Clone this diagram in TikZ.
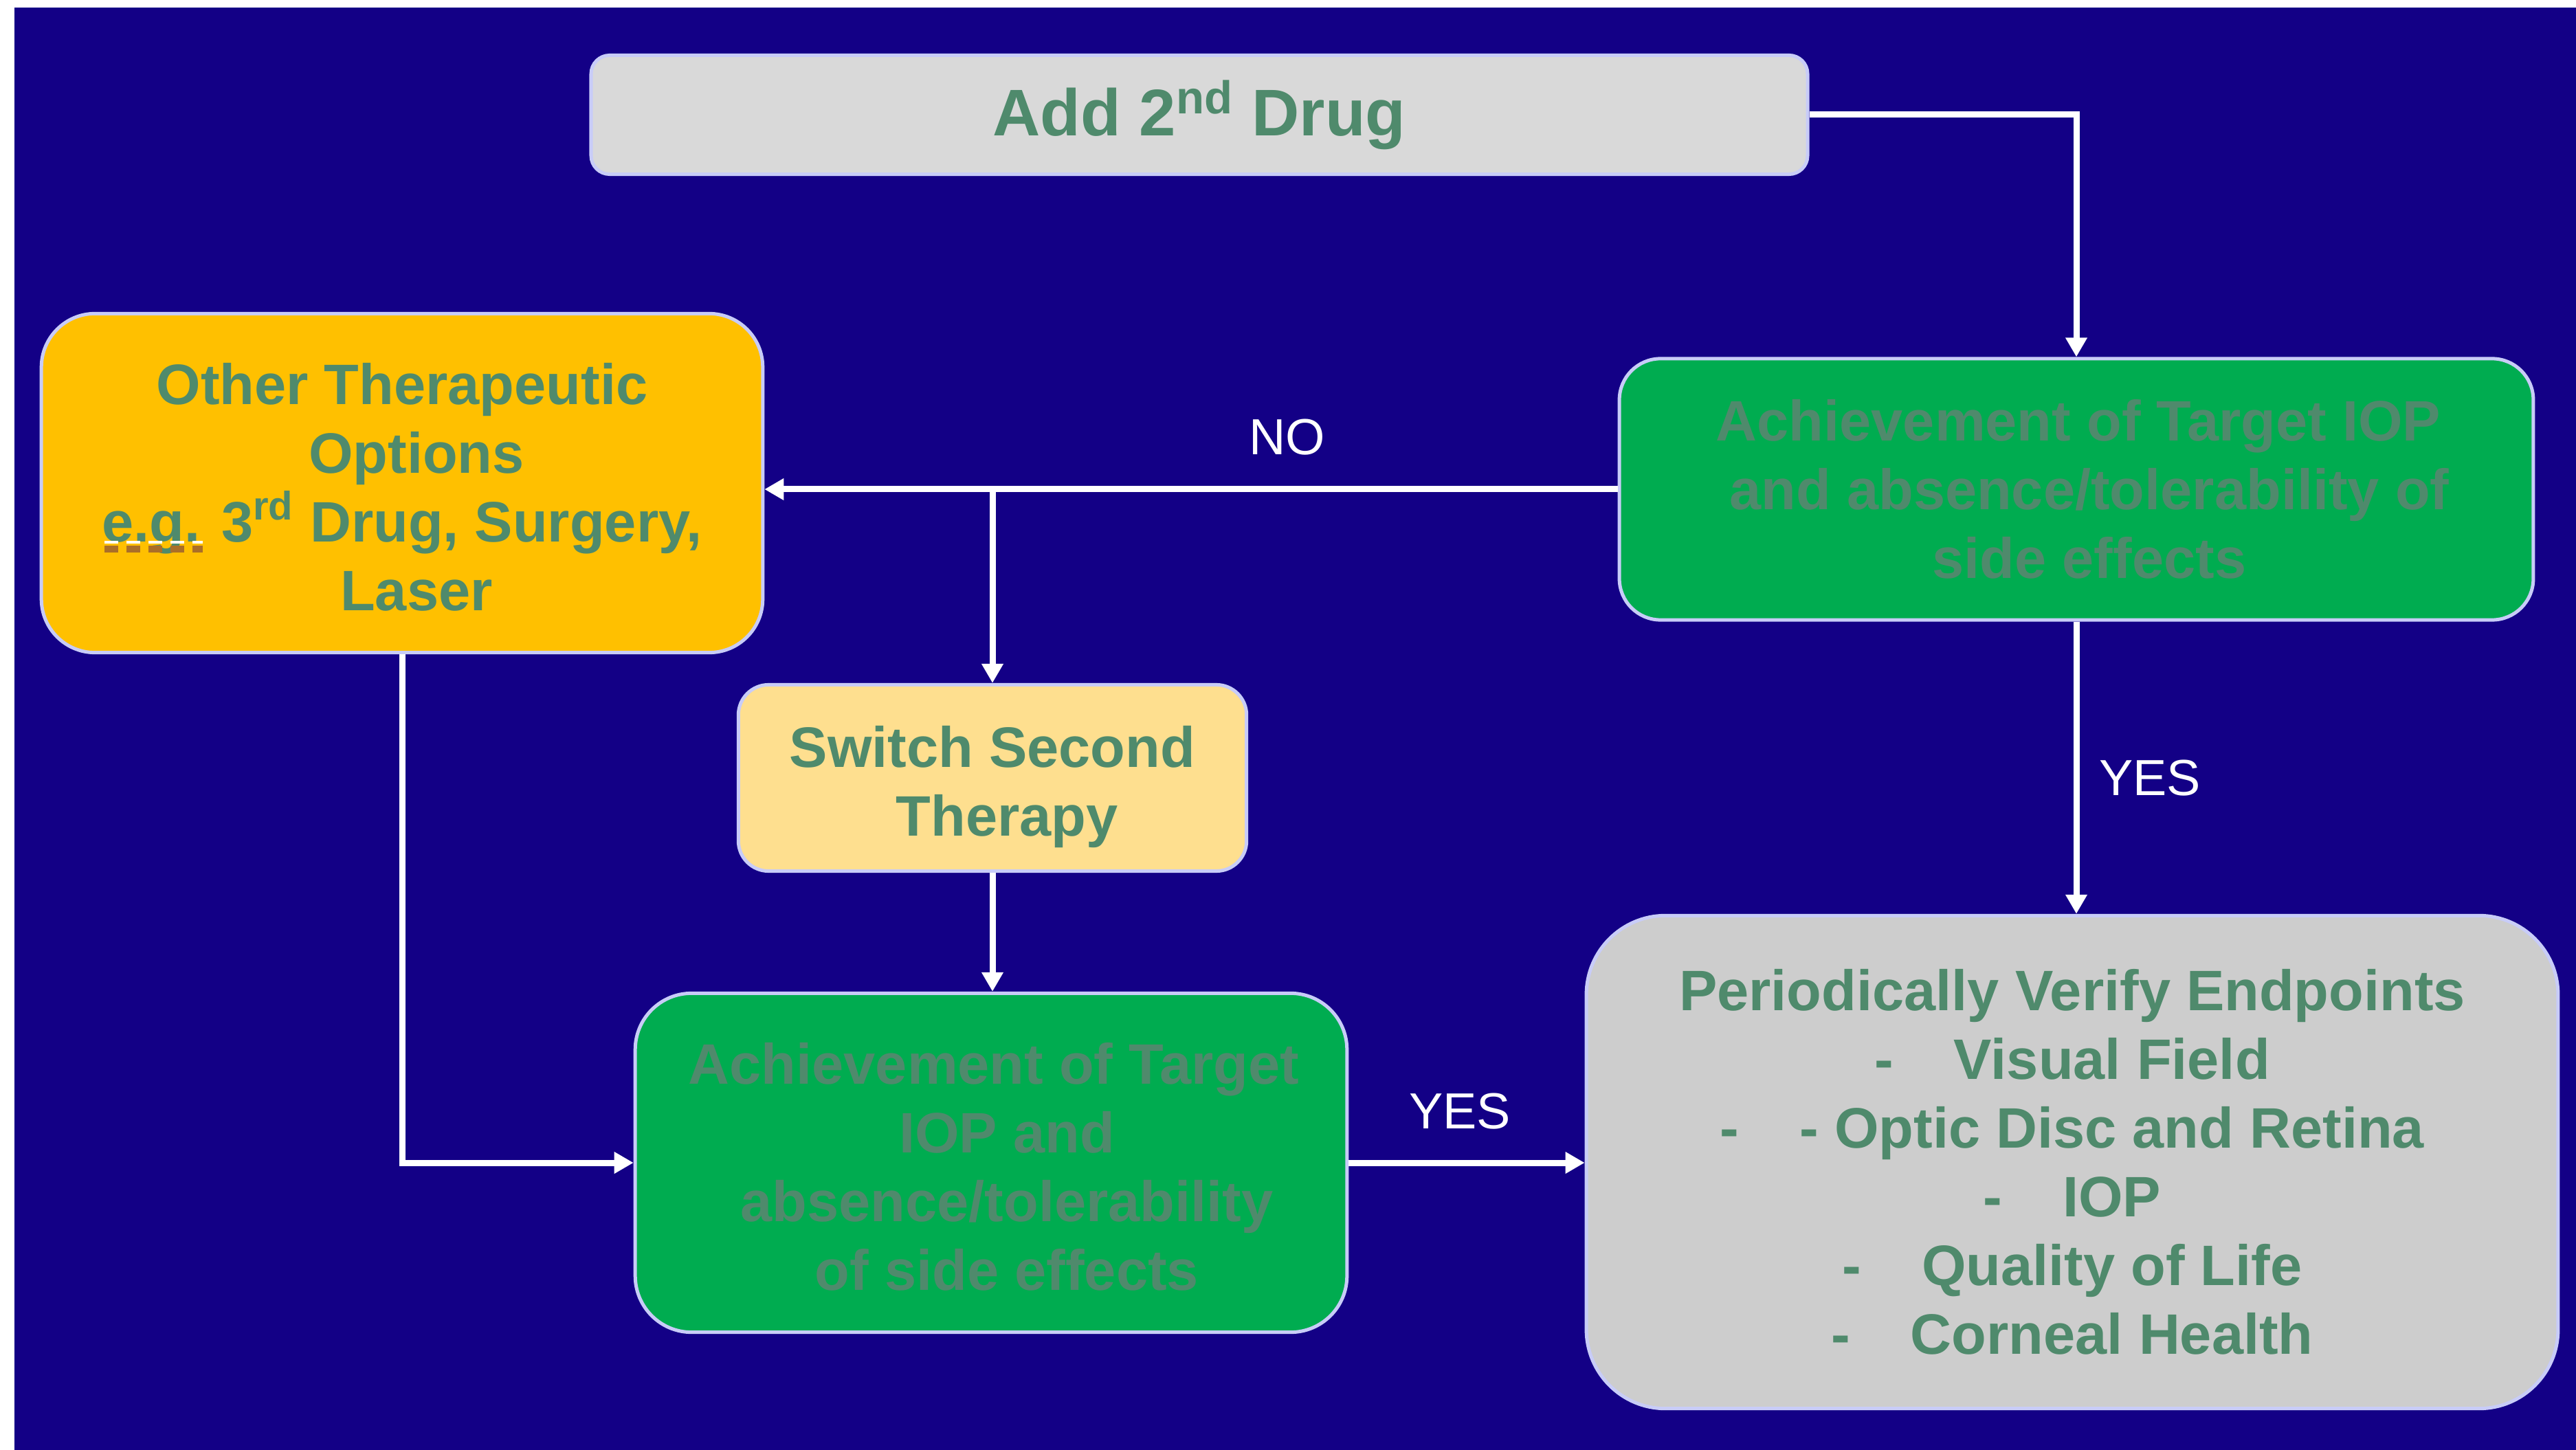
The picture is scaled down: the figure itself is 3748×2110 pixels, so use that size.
\documentclass[tikz,border=0pt]{standalone}
\usepackage{fontspec}
\setmainfont{Liberation Sans}
\usetikzlibrary{arrows.meta}
\definecolor{bgblue}{RGB}{19,0,134}
\definecolor{bordercol}{RGB}{200,204,248}
\definecolor{txtgreen}{RGB}{79,138,108}
\definecolor{boxgreen}{RGB}{0,172,80}
\definecolor{boxorange}{RGB}{255,192,0}
\definecolor{boxyellow}{RGB}{254,223,143}
\definecolor{boxlight}{RGB}{217,217,217}
\definecolor{boxgray}{RGB}{205,205,205}
\definecolor{squig}{RGB}{170,110,40}
\newcommand\boxfont{\fontsize{23.6}{28.45}\selectfont\bfseries}
\newcommand\addfont{\fontsize{27.3}{32}\selectfont\bfseries}
\newcommand\lblfont{\fontsize{21}{25}\selectfont}
\newcommand\sh[1]{\hspace*{#1}}
\tikzset{
  box/.style={rectangle, draw=bordercol, line width=0.05cm, text=txtgreen,
    font=\boxfont, align=center, inner sep=0pt},
  arr/.style={draw=white, line width=0.09cm, -{Triangle[length=0.28cm,width=0.30cm]}},
  lbl/.style={text=white, font=\lblfont, inner sep=0pt}
}
\begin{document}
\begin{tikzpicture}[x=0.01cm,y=-0.01cm]
\useasboundingbox (0,0) rectangle (3748,2110);
\fill[white] (0,0) rectangle (3748,2110);
\fill[bgblue] (21,11) rectangle (3748,2110);

\node[box, fill=boxlight, rounded corners=0.27cm, font=\addfont,
  minimum width=17.69cm, minimum height=1.73cm] (add) at (1745,167)
  {\rule{0pt}{0.78cm}Add 2\textsuperscript{nd} Drug};

\node[box, fill=boxgreen, rounded corners=0.6cm,
  minimum width=13.29cm, minimum height=3.80cm] (g1) at (3021,712)
  {\sh{0.06cm}Achievement of Target IOP\\\sh{0.38cm}and absence/tolerability of\\\sh{0.38cm}side effects};

\node[box, fill=boxorange, rounded corners=0.78cm,
  minimum width=10.49cm, minimum height=4.93cm] (orange) at (585,703)
  {\rule{0pt}{0.72cm}Other Therapeutic\\\sh{0.42cm}Options\\e.g. 3\textsuperscript{rd} Drug, Surgery,\\\sh{0.42cm}Laser};

\node[box, fill=boxyellow, rounded corners=0.44cm,
  minimum width=7.39cm, minimum height=2.71cm] (switch) at (1444,1132)
  {\rule{0pt}{0.86cm}Switch Second\\\sh{0.42cm}Therapy};

\node[box, fill=boxgreen, rounded corners=0.82cm,
  minimum width=10.35cm, minimum height=4.93cm] (g2) at (1442,1692)
  {\sh{0.08cm}\rule{0pt}{0.72cm}Achievement of Target\\\sh{0.46cm}IOP and\\\sh{0.46cm}absence/tolerability\\\sh{0.46cm}of side effects};

\node[box, fill=boxgray, rounded corners=1.15cm,
  minimum width=14.13cm, minimum height=7.17cm] (gray) at (3015,1691)
  {Periodically Verify Endpoints\\
   -\hspace{0.88cm}Visual Field\\
   -\hspace{0.88cm}- Optic Disc and Retina\\
   -\hspace{0.88cm}IOP\\
   -\hspace{0.88cm}Quality of Life\\
   -\hspace{0.88cm}Corneal Health};

% spell-check marker under "e.g."
\draw[squig, line width=0.10cm, dash pattern=on 0.2cm off 0.12cm] (152,799) -- (295,799);
\draw[white, line width=0.04cm, dash pattern=on 0.2cm off 0.12cm] (152,789) -- (295,789);

% connectors
\draw[arr] (add.east) -| (g1.north);
\draw[arr] (g1.west) -- (g1.west -| orange.east);
\draw[arr] (g1.west -| switch.north) -- (switch.north);
\draw[arr] (g1.south) -- (g1.south |- gray.north);
\draw[arr] (switch.south) -- (switch.south |- g2.north);
\draw[arr] (orange.south) |- (g2.west);
\draw[arr] (g2.east) -- (g2.east -| gray.west);

% labels
\node[lbl] (no) at (1873,636) {NO};
\node[lbl] (yes1) at (3128,1132) {YES};
\node[lbl] (yes2) at (2124,1617) {YES};
\end{tikzpicture}
\end{document}
